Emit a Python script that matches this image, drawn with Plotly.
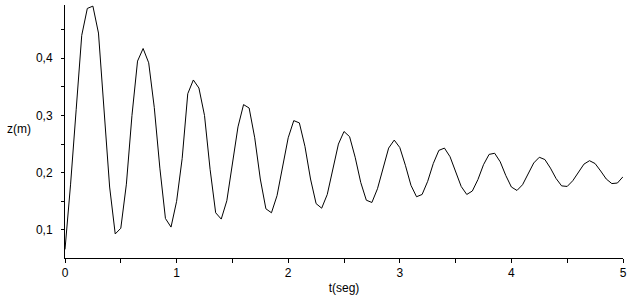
import plotly.graph_objects as go

t_values = [round(i * 0.05, 2) for i in range(101)]
z_values = [
    0.066, 0.180, 0.310, 0.440, 0.487, 0.491, 0.444, 0.313, 0.175, 0.093,
    0.103, 0.180, 0.300, 0.395, 0.417, 0.392, 0.314, 0.208, 0.120, 0.105,
    0.150, 0.225, 0.338, 0.362, 0.348, 0.300, 0.206, 0.130, 0.119, 0.151,
    0.214, 0.280, 0.319, 0.313, 0.261, 0.189, 0.137, 0.130, 0.160, 0.211,
    0.261, 0.291, 0.287, 0.246, 0.189, 0.146, 0.138, 0.162, 0.207, 0.250,
    0.272, 0.263, 0.227, 0.183, 0.152, 0.148, 0.172, 0.209, 0.243, 0.257,
    0.244, 0.213, 0.178, 0.158, 0.162, 0.185, 0.216, 0.239, 0.243, 0.228,
    0.202, 0.176, 0.162, 0.168, 0.188, 0.214, 0.232, 0.234, 0.219, 0.195,
    0.175, 0.169, 0.179, 0.198, 0.217, 0.227, 0.223, 0.208, 0.190, 0.177,
    0.176, 0.186, 0.201, 0.215, 0.221, 0.216, 0.203, 0.189, 0.181, 0.182,
    0.193,
]

x_tick_vals = [0, 1, 2, 3, 4, 5]
x_tick_text = ["0", "1", "2", "3", "4", "5"]
y_tick_vals = [0.1, 0.2, 0.3, 0.4]
y_tick_text = ["0,1", "0,2", "0,3", "0,4"]

font_family = "Liberation Sans"

fig = go.Figure()
fig.add_trace(go.Scatter(
    x=t_values, y=z_values, mode="lines",
    line=dict(color="black", width=1),
    showlegend=False, hoverinfo="skip",
))

fig.update_layout(
    width=633, height=298,
    margin=dict(l=65, r=10, t=5, b=40),
    paper_bgcolor="white", plot_bgcolor="white",
    font=dict(family=font_family, size=12, color="black"),
    xaxis=dict(
        range=[0, 5], showline=True, linecolor="black", linewidth=1,
        showgrid=False, zeroline=False,
        tickvals=x_tick_vals, ticktext=x_tick_text,
        ticks="outside", ticklen=4, tickcolor="black",
        minor=dict(ticks="outside", dtick=0.5, tick0=0, ticklen=4, tickcolor="black"),
        tickfont=dict(size=12),
        title=dict(text="t(seg)", font=dict(size=12), standoff=4),
    ),
    yaxis=dict(
        range=[0.051, 0.493], showline=True, linecolor="black", linewidth=1,
        showgrid=False, zeroline=False,
        tickvals=y_tick_vals, ticktext=y_tick_text,
        ticks="outside", ticklen=3, tickcolor="black",
        minor=dict(ticks="outside", dtick=0.05, tick0=0, ticklen=3, tickcolor="black"),
        tickfont=dict(size=12),
        ticklabelstandoff=6,
    ),
    annotations=[dict(
        text="z(m)", x=0, y=0.5, xref="paper", yref="paper",
        xshift=-46, yshift=3, showarrow=False, xanchor="center", yanchor="middle",
        font=dict(size=12, family=font_family),
    )],
)

fig.write_html("out.html")
